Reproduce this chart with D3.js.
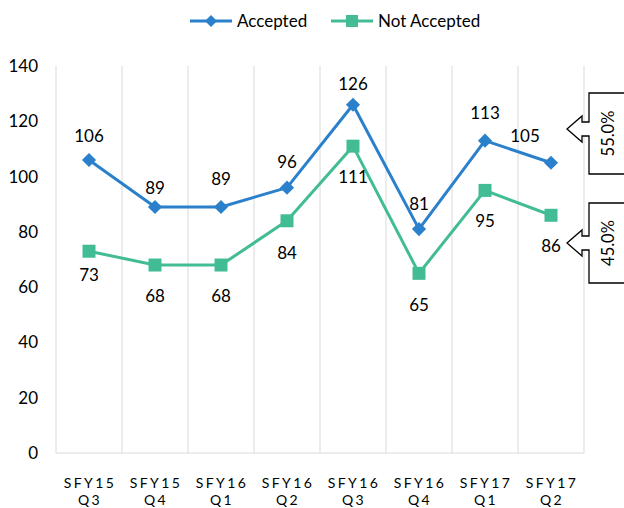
<!DOCTYPE html>
<html>
<head>
<meta charset="utf-8">
<script src="https://cdn.jsdelivr.net/npm/d3@7"></script>
<style>
  html, body { margin: 0; padding: 0; background: #fff; }
  svg { display: block; font-family: Lato, "Open Sans", sans-serif; }
</style>
</head>
<body>
<svg id="chart" width="624" height="508"></svg>
<script>
const categories = [["SFY15","Q3"],["SFY15","Q4"],["SFY16","Q1"],["SFY16","Q2"],["SFY16","Q3"],["SFY16","Q4"],["SFY17","Q1"],["SFY17","Q2"]];
const accepted = [106, 89, 89, 96, 126, 81, 113, 105];
const notAccepted = [73, 68, 68, 84, 111, 65, 95, 86];
const yTicks = [0, 20, 40, 60, 80, 100, 120, 140];
const seriesNames = ["Accepted", "Not Accepted"];
const shareLabels = ["55.0%", "45.0%"];

const blue = "#2B80CC", teal = "#42BC95", grid = "#D9D9D9";
const svg = d3.select("#chart");
const keys = categories.map(c => c.join(" "));
const x = d3.scaleBand().domain(keys).range([56, 584]);
const y = d3.scaleLinear().domain([0, 140]).range([453, 66]);
const cx = i => x(keys[i]) + x.bandwidth() / 2;

// vertical category gridlines
const bounds = d3.range(keys.length + 1).map(i => 56 + i * x.bandwidth());
svg.append("g").selectAll("line").data(bounds).join("line")
  .attr("x1", d => d).attr("x2", d => d).attr("y1", y(140)).attr("y2", y(0))
  .attr("stroke", grid).attr("stroke-width", 1);
svg.append("line").attr("x1", 56).attr("x2", 584).attr("y1", y(0)).attr("y2", y(0))
  .attr("stroke", grid).attr("stroke-width", 1);

// y axis labels
const yAxis = d3.axisLeft(y).tickValues(yTicks).tickSize(0).tickPadding(0);
const gy = svg.append("g").attr("transform", "translate(38,0)").call(yAxis);
gy.select(".domain").remove();
gy.selectAll("text").attr("font-size", 17).attr("fill", "#000").attr("font-family", "Lato, sans-serif");

// x axis labels
const gx = svg.append("g");
categories.forEach((c, i) => {
  const t = gx.append("text").attr("text-anchor", "middle").attr("font-size", 14)
    .attr("letter-spacing", 2.4).attr("fill", "#000");
  t.append("tspan").attr("x", cx(i) + 1).attr("y", 488).text(c[0]);
  t.append("tspan").attr("x", cx(i) + 1).attr("y", 505).text(c[1]);
});

// lines
const line = d3.line().x((d, i) => cx(i)).y(d => y(d));
svg.append("path").datum(notAccepted).attr("d", line).attr("fill", "none")
  .attr("stroke", teal).attr("stroke-width", 3).attr("stroke-linejoin", "round");
svg.append("path").datum(accepted).attr("d", line).attr("fill", "none")
  .attr("stroke", blue).attr("stroke-width", 3).attr("stroke-linejoin", "round");

// markers
svg.append("g").selectAll("rect").data(notAccepted).join("rect")
  .attr("x", (d, i) => cx(i) - 6.5).attr("y", d => y(d) - 6.5)
  .attr("width", 13).attr("height", 13).attr("fill", teal);
svg.append("g").selectAll("path").data(accepted).join("path")
  .attr("d", d3.symbol(d3.symbolSquare, 100)())
  .attr("transform", (d, i) => `translate(${cx(i)},${y(d)}) rotate(45)`)
  .attr("fill", blue);

// data labels
const accOff = [[0,-18],[0,-13],[0,-22],[0,-20],[0,-15],[0,-19],[0,-22],[-26,-21]];
const notOff = [[0,30],[0,37],[0,37],[0,38],[0,37],[0,38],[0,37],[0,37]];
svg.append("g").selectAll("text").data(accepted).join("text")
  .attr("x", (d, i) => cx(i) + accOff[i][0]).attr("y", (d, i) => y(d) + accOff[i][1])
  .attr("text-anchor", "middle").attr("font-size", 17).attr("fill", "#000").text(d => d);
svg.append("g").selectAll("text").data(notAccepted).join("text")
  .attr("x", (d, i) => cx(i) + notOff[i][0]).attr("y", (d, i) => y(d) + notOff[i][1])
  .attr("text-anchor", "middle").attr("font-size", 17).attr("fill", "#000").text(d => d);

// callouts
function callout(cy, top, bottom, label) {
  const tip = 567, hb = 582, bx = 589, hh = 13, sh = 7;
  const p = [[700, top],[bx, top],[bx, cy - sh],[hb, cy - sh],[hb, cy - hh],[tip, cy],
             [hb, cy + hh],[hb, cy + sh],[bx, cy + sh],[bx, bottom],[700, bottom]];
  svg.append("path").attr("d", d3.line()(p)).attr("fill", "#fff")
    .attr("stroke", "#000").attr("stroke-width", 1.3);
  svg.append("text").attr("transform", `translate(614,${(top + bottom) / 2}) rotate(-90)`)
    .attr("text-anchor", "middle").attr("font-size", 16.5).attr("fill", "#000").text(label);
}
callout(129, 93, 174, shareLabels[0]);
callout(243, 203, 283, shareLabels[1]);

// legend
const lg = svg.append("g");
lg.append("line").attr("x1", 190).attr("x2", 232).attr("y1", 21).attr("y2", 21)
  .attr("stroke", blue).attr("stroke-width", 3);
lg.append("path").attr("d", d3.symbol(d3.symbolSquare, 72)())
  .attr("transform", "translate(211,21) rotate(45)").attr("fill", blue);
lg.append("text").attr("x", 237).attr("y", 27).attr("font-size", 17).text(seriesNames[0]);
lg.append("line").attr("x1", 331).attr("x2", 373).attr("y1", 21).attr("y2", 21)
  .attr("stroke", teal).attr("stroke-width", 3);
lg.append("rect").attr("x", 346).attr("y", 15).attr("width", 12).attr("height", 12).attr("fill", teal);
lg.append("text").attr("x", 378).attr("y", 27).attr("font-size", 17).text(seriesNames[1]);
</script>
</body>
</html>
